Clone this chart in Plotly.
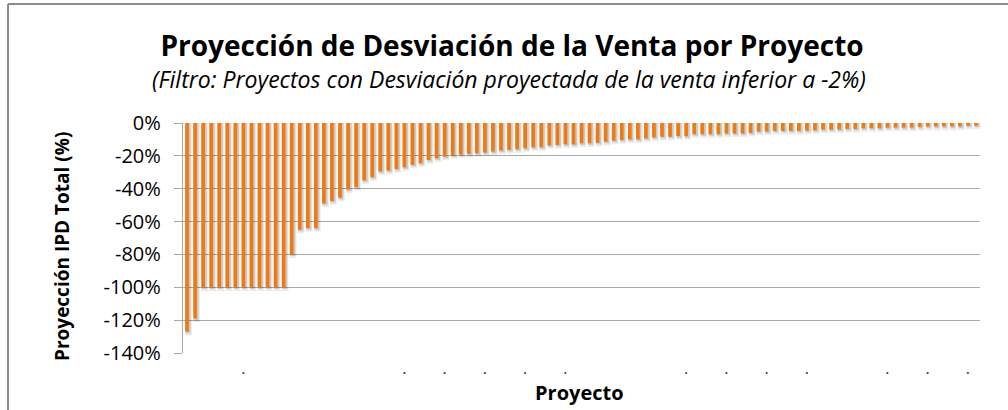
import plotly.graph_objects as go

# ---- data ----
proyectos = [f"P{i:03d}" for i in range(1, 100)]
desviacion_pct = [
    -127, -119, -100, -100, -100, -100, -100, -100, -100, -100,
    -100, -100, -100, -80, -65, -64, -64, -49, -47.5, -45.5,
    -40.5, -39, -35, -33, -29.5, -29, -28, -27, -25.5, -24.5,
    -22.5, -21.5, -20.5, -19.7, -19.2, -18.8, -18.4, -18, -17.4, -16.8,
    -16.4, -16, -15.4, -14.8, -14.8, -13.6, -13.4, -13, -13, -12.4,
    -12.4, -12, -11.4, -10.8, -10.4, -10, -10, -9.4, -8.8, -8.4,
    -8.4, -8, -8, -6.8, -6.8, -6.8, -6.8, -6.4, -6.4, -6.4,
    -6, -5.2, -5.2, -4.8, -4.8, -4.8, -4.8, -4.6, -4.4, -4,
    -4, -4, -3.6, -3.6, -3.2, -3.2, -3.2, -2.8, -2.8, -2.8,
    -2.8, -2.4, -2.1, -2.1, -2.1, -2.1, -2.1, -1.6, -1.6,
]
# category positions that carry a (tiny, truncated) tick label
label_idx = [7, 27, 32, 37, 42, 47, 62, 67, 72, 77, 87, 92, 97]
label_txt = ["."] * len(label_idx)

y_ticks = [0, -20, -40, -60, -80, -100, -120, -140]
y_ticktext = [f"{v}%" for v in y_ticks]

title_txt = "<b>Proyección de Desviación de la Venta por Proyecto</b>"
subtitle_txt = "<i>(Filtro: Proyectos con Desviación proyectada de la venta inferior a -2%)</i>"
ytitle_txt = "<b>Proyección IPD Total (%)</b>"
xtitle_txt = "<b>Proyecto</b>"

FONT = "Open Sans"
BAR = "#EF7A12"
GRID = "#A8A8A8"

fig = go.Figure()

# soft shadow layers (offset right/down)
fig.add_trace(go.Bar(
    x=proyectos, y=[v - 2.2 for v in desviacion_pct], base=0,
    width=0.85, offset=-0.25,
    marker=dict(color="rgba(0,0,0,0.08)", line=dict(width=0)),
    hoverinfo="skip", showlegend=False,
))
fig.add_trace(go.Bar(
    x=proyectos, y=[v - 1.0 for v in desviacion_pct], base=0,
    width=0.6, offset=-0.15,
    marker=dict(color="rgba(0,0,0,0.14)", line=dict(width=0)),
    hoverinfo="skip", showlegend=False,
))
# main bars
fig.add_trace(go.Bar(
    x=proyectos, y=desviacion_pct,
    width=0.46, offset=-0.23,
    marker=dict(color=BAR, line=dict(width=0)),
    showlegend=False,
))

fig.update_layout(
    width=1008, height=410,
    margin=dict(l=183, r=28, t=123, b=57),
    paper_bgcolor="white", plot_bgcolor="white",
    barmode="overlay",
    font=dict(family=FONT, color="#000000"),
    title=dict(text=title_txt, x=0.508, xanchor="center", y=1 - 46 / 410,
               yanchor="middle", font=dict(family=FONT, size=28, color="#000")),
    xaxis=dict(
        type="category", range=[-0.5, 98.5],
        tickmode="array",
        tickvals=[proyectos[i] for i in label_idx], ticktext=label_txt,
        tickfont=dict(size=16, color="#333"),
        ticks="", showgrid=False, showline=False, zeroline=False,
        ticklabelstandoff=4,
    ),
    yaxis=dict(
        range=[-140, 0], tickmode="array", tickvals=y_ticks, ticktext=y_ticktext,
        tickfont=dict(size=20, color="#000"),
        showgrid=True, gridcolor=GRID, gridwidth=1.4,
        showline=True, linecolor=GRID, linewidth=1.4,
        ticks="outside", ticklen=8, tickcolor=GRID, tickwidth=1.4,
        ticklabelstandoff=9,
        zeroline=False,
    ),
    annotations=[
        dict(text=subtitle_txt, xref="paper", yref="paper",
             x=(509 - 183) / 797, y=(353 - 79) / 230, xanchor="center", yanchor="middle",
             showarrow=False, font=dict(family=FONT, size=23, color="#000")),
        dict(text=ytitle_txt, xref="paper", yref="paper", textangle=-90,
             x=(62 - 183) / 797, y=(353 - 247) / 230, xanchor="center", yanchor="middle",
             showarrow=False, font=dict(family=FONT, size=19, color="#000")),
        dict(text=xtitle_txt, xref="paper", yref="paper",
             x=(579 - 183) / 797, y=(353 - 392) / 230, xanchor="center", yanchor="middle",
             showarrow=False, font=dict(family=FONT, size=20, color="#000")),
    ],
    shapes=[
        # chart-area border (top and left edges visible in the reference)
        dict(type="line", xref="paper", yref="paper",
             x0=(8 - 183) / 797, x1=(1010 - 183) / 797,
             y0=(353 - 4) / 230, y1=(353 - 4) / 230,
             line=dict(color="#8C8C8C", width=2)),
        dict(type="line", xref="paper", yref="paper",
             x0=(8 - 183) / 797, x1=(8 - 183) / 797,
             y0=(353 - 4) / 230, y1=(353 - 420) / 230,
             line=dict(color="#8C8C8C", width=2)),
    ],
)

fig.write_html("out.html", config={"displayModeBar": False},
               post_script="document.body.style.margin='0';document.body.style.padding='0';")
